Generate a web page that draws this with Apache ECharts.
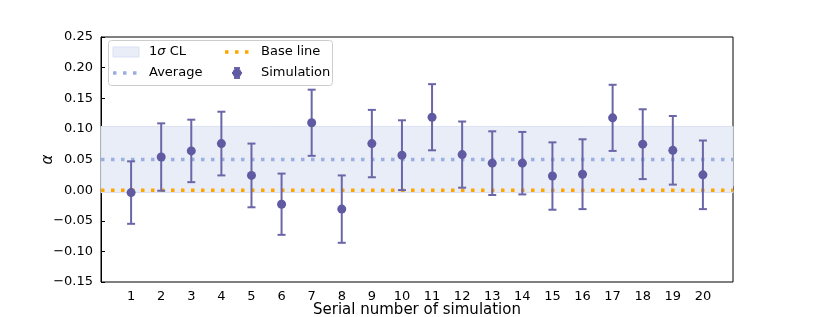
<!DOCTYPE html>
<html>
<head>
<meta charset="utf-8">
<script src="https://cdn.jsdelivr.net/npm/echarts@6/dist/echarts.min.js"></script>
<style>
html,body{margin:0;padding:0;background:#fff;}
#c{width:814px;height:317px;}
</style>
</head>
<body>
<div id="c"></div>
<script>
const categories = [1,2,3,4,5,6,7,8,9,10,11,12,13,14,15,16,17,18,19,20];
const simValues = [-0.004,0.054,0.064,0.076,0.024,-0.023,0.110,-0.031,0.076,0.057,0.119,0.058,0.044,0.044,0.023,0.026,0.118,0.075,0.065,0.025];
const simErrors = [0.051,0.055,0.051,0.052,0.052,0.050,0.054,0.055,0.055,0.057,0.054,0.054,0.052,0.051,0.055,0.057,0.054,0.057,0.056,0.056];
const averageValue = 0.050;
const sigmaCL = 0.054;
const baseLine = 0.0;
const yTicks = [-0.15,-0.10,-0.05,0.00,0.05,0.10,0.15,0.20,0.25];

const FONT = 'DejaVu Sans';
const MARK = '#5f5aa2';
const BAR = '#6a66a8';
const BAND = '#e9edf8';
const AVG = '#9aaee0';
const ORANGE = '#ffa500';

const chart = echarts.init(document.getElementById('c'), null, {renderer:'canvas'});

const errData = categories.map((c,i)=>[c, simValues[i], simErrors[i]]);

function fmtY(v){
  const s = Math.abs(v).toFixed(2);
  return (v < -1e-9 ? '\u2212' : '') + s;
}

const option = {
  animation:false,
  grid:{left:101,right:81,top:37,bottom:35,show:true,borderColor:'#000',borderWidth:1,backgroundColor:'transparent',containLabel:false,outerBoundsMode:'none'},
  xAxis:{
    type:'value',min:0,max:21,interval:1,
    axisLine:{show:true,lineStyle:{color:'#000',width:1}},
    axisTick:{show:true,inside:true,length:4,lineStyle:{color:'#000'}},
    splitLine:{show:false},
    axisLabel:{color:'#000',fontFamily:FONT,fontSize:13,margin:8,
      formatter:function(v){return categories.indexOf(v)>=0 ? String(v) : '';}},
    name:'Serial number of simulation',nameLocation:'middle',nameGap:21,nameMoveOverlap:false,
    nameTextStyle:{color:'#000',fontFamily:FONT,fontSize:15}
  },
  yAxis:{
    type:'value',min:yTicks[0],max:yTicks[yTicks.length-1],interval:0.05,
    axisLine:{show:true,lineStyle:{color:'#000',width:1}},
    axisTick:{show:true,inside:true,length:4,lineStyle:{color:'#000'}},
    splitLine:{show:false},
    axisLabel:{color:'#000',fontFamily:FONT,fontSize:13,margin:8,formatter:fmtY},
    name:'\u03b1',nameLocation:'middle',nameGap:45,nameRotate:90,nameMoveOverlap:false,
    nameTextStyle:{color:'#000',fontFamily:FONT,fontSize:15,fontStyle:'italic'}
  },
  series:[
    {
      type:'line',name:'Average',data:[[0,averageValue],[21,averageValue]],
      symbol:'none',z:2,
      lineStyle:{color:AVG,width:3.5,type:[3.5,6.5],cap:'butt'},
      markArea:{silent:true,itemStyle:{color:BAND,borderColor:'#dbe1f3',borderWidth:1},
        data:[[{xAxis:0,yAxis:averageValue-sigmaCL},{xAxis:21,yAxis:averageValue+sigmaCL}]]}
    },
    {
      type:'line',name:'Base line',data:[[0,baseLine],[21,baseLine]],
      symbol:'none',z:3,
      lineStyle:{color:ORANGE,width:3.5,type:[3.5,6.5],cap:'butt'}
    },
    {
      type:'custom',name:'Simulation',z:5,data:errData,
      renderItem:function(params,api){
        const x=api.value(0),y=api.value(1),e=api.value(2);
        const top=api.coord([x,y+e]);
        const bot=api.coord([x,y-e]);
        const mid=api.coord([x,y]);
        const cw=4;
        return {type:'group',children:[
          {type:'line',shape:{x1:top[0],y1:top[1],x2:bot[0],y2:bot[1]},style:{stroke:BAR,lineWidth:2}},
          {type:'line',shape:{x1:top[0]-cw,y1:top[1],x2:top[0]+cw,y2:top[1]},style:{stroke:BAR,lineWidth:2}},
          {type:'line',shape:{x1:bot[0]-cw,y1:bot[1],x2:bot[0]+cw,y2:bot[1]},style:{stroke:BAR,lineWidth:2}},
          {type:'circle',shape:{cx:mid[0],cy:mid[1],r:4.5},style:{fill:MARK}}
        ]};
      }
    }
  ],
  graphic:[
    {type:'rect',shape:{x:108.5,y:40.5,width:224,height:45,r:3},style:{fill:'rgba(255,255,255,0.85)',stroke:'#cccccc',lineWidth:1},z:100},
    {type:'rect',shape:{x:113,y:47,width:26,height:10},style:{fill:BAND,stroke:'#dbe1f3',lineWidth:1},z:101},
    {type:'text',x:149,y:52,style:{rich:{i:{fontStyle:'italic',fontFamily:FONT,fontSize:13,fill:'#000'},n:{fontFamily:FONT,fontSize:13,fill:'#000'}},text:'{n|1}{i|\u03c3}{n| CL}',verticalAlign:'middle'},z:101},
    {type:'line',shape:{x1:113,y1:73,x2:139,y2:73},style:{stroke:AVG,lineWidth:3.5,lineDash:[3.5,6.5]},z:101},
    {type:'text',x:149,y:73,style:{text:'Average',fontFamily:FONT,fontSize:13,fill:'#000',verticalAlign:'middle'},z:101},
    {type:'line',shape:{x1:225,y1:52,x2:251,y2:52},style:{stroke:ORANGE,lineWidth:3.5,lineDash:[3.5,6.5]},z:101},
    {type:'text',x:261,y:52,style:{text:'Base line',fontFamily:FONT,fontSize:13,fill:'#000',verticalAlign:'middle'},z:101},
    {type:'line',shape:{x1:237,y1:68,x2:237,y2:78},style:{stroke:BAR,lineWidth:2},z:101},
    {type:'line',shape:{x1:234,y1:68,x2:240,y2:68},style:{stroke:BAR,lineWidth:2},z:101},
    {type:'line',shape:{x1:234,y1:78,x2:240,y2:78},style:{stroke:BAR,lineWidth:2},z:101},
    {type:'line',shape:{x1:232,y1:73,x2:242,y2:73},style:{stroke:BAR,lineWidth:2},z:101},
    {type:'circle',shape:{cx:237,cy:73,r:4.5},style:{fill:MARK},z:102},
    {type:'text',x:261,y:73,style:{text:'Simulation',fontFamily:FONT,fontSize:13,fill:'#000',verticalAlign:'middle'},z:101}
  ]
};
chart.setOption(option);
</script>
</body>
</html>
